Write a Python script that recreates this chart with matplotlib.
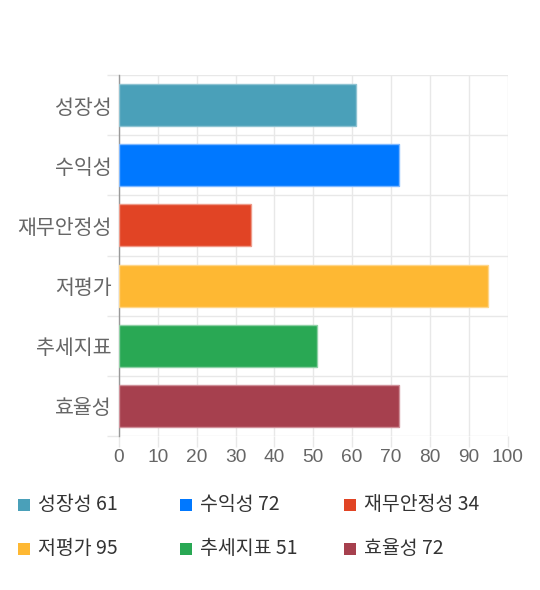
import matplotlib

matplotlib.use("Agg")
import matplotlib.pyplot as plt
from matplotlib.patches import Rectangle

plt.rcParams["font.family"] = ["Noto Sans CJK KR", "DejaVu Sans"]

categories = ["성장성", "수익성", "재무안정성", "저평가", "추세지표", "효율성"]
scores = [61, 72, 34, 95, 51, 72]
colors = ["#4aa0b9", "#0078ff", "#e14425", "#feb833", "#29a854", "#a6404e"]
edge_colors = ["#8fc3d2", "#7fb8ff", "#ee9a89", "#fed68a", "#8fd0a6", "#cf9099"]
x_ticks = list(range(0, 101, 10))

fig = plt.figure(figsize=(5.4, 5.9), dpi=100)
ax = fig.add_axes([119 / 540, 1 - 436 / 590, 388.5 / 540, 361 / 590])

ypos = list(range(len(categories)))
ax.barh(ypos, scores, height=0.7, color=colors, edgecolor=edge_colors,
        linewidth=1, zorder=3)

ax.set_xlim(0, 100)
ax.set_ylim(len(categories) - 0.5, -0.5)
ax.set_xticks(x_ticks)
ax.set_xticklabels([str(t) for t in x_ticks], family="Liberation Sans",
                   fontsize=13.8, color="#666666")
ax.set_yticks(ypos)
ax.set_yticklabels(categories, fontsize=14.8, color="#666666")

# category band boundaries as grid lines
ax.set_yticks([i - 0.5 for i in range(len(categories) + 1)], minor=True)
ax.tick_params(axis="y", which="major", length=0, pad=5.5)
ax.tick_params(axis="y", which="minor", length=9, color="#e8e8e8", width=1)
ax.tick_params(axis="x", length=8, color="#e8e8e8", width=1, pad=1)
ax.grid(True, axis="x", color="#e8e8e8", linewidth=1, zorder=0)
ax.grid(True, axis="y", which="minor", color="#e8e8e8", linewidth=1, zorder=0)

for side in ["top", "right", "bottom"]:
    ax.spines[side].set_visible(False)
ax.spines["left"].set_color("#999999")
ax.spines["left"].set_linewidth(1)

# legend in a 3x2 grid below the chart
col_x = [18, 180, 344]
row_y = [505, 549]
for i, (name, val, c) in enumerate(zip(categories, scores, colors)):
    cx = col_x[i % 3]
    cy = row_y[i // 3]
    fig.patches.append(Rectangle((cx / 540, 1 - (cy + 6) / 590), 12 / 540, 12 / 590,
                                 transform=fig.transFigure, facecolor=c,
                                 edgecolor="none"))
    fig.text((cx + 20) / 540, 1 - cy / 590, f"{name} {val}", fontsize=14,
             color="#333333", va="center", ha="left")

fig.savefig("out.png", dpi=100, facecolor="white")
